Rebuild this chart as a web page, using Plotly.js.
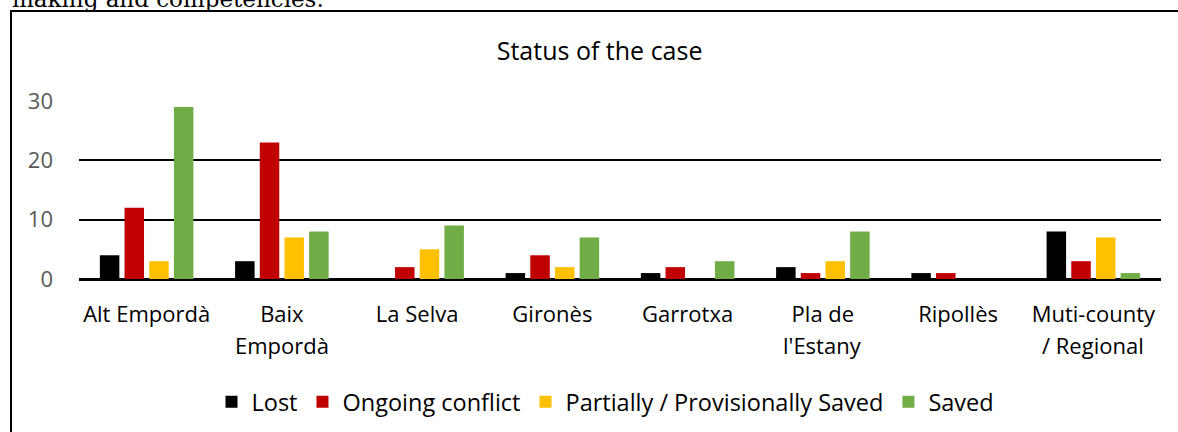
<!DOCTYPE html>
<html>
<head>
<meta charset="utf-8">
<script src="https://cdn.plot.ly/plotly-3.0.1.min.js"></script>
<style>
  html, body { margin: 0; padding: 0; background: #fff; overflow: hidden; }
  #wrap { position: relative; width: 1178px; height: 432px; overflow: hidden; }
  #chart { position: absolute; left: 0; top: 0; width: 1178px; height: 432px; }
  #frame { position: absolute; left: 10px; top: 10px; width: 1200px; height: 460px;
           border-left: 2px solid #000; border-top: 2px solid #000; pointer-events: none; }
  #prev { position: absolute; left: 12px; top: -17px; font-family: "DejaVu Serif", serif;
          font-size: 23px; line-height: 32px; color: #000; white-space: nowrap; }
</style>
</head>
<body>
<div id="wrap">
  <div id="chart"></div>
  <div id="prev">making and competencies.</div>
  <div id="frame"></div>
</div>
<script>
const categories = ["Alt Empordà", "Baix Empordà", "La Selva", "Gironès", "Garrotxa", "Pla de l'Estany", "Ripollès", "Muti-county / Regional"];
const labelLine1 = ["Alt Empordà", "Baix", "La Selva", "Gironès", "Garrotxa", "Pla de", "Ripollès", "Muti-county"];
const labelLine2 = ["", "Empordà", "", "", "", "l'Estany", "", "/ Regional"];
const seriesNames = ["Lost", "Ongoing conflict", "Partially / Provisionally Saved", "Saved"];
const lost = [4, 3, 0, 1, 1, 2, 1, 8];
const ongoing = [12, 23, 2, 4, 2, 1, 1, 3];
const partial = [3, 7, 5, 2, 0, 3, 0, 7];
const saved = [29, 8, 9, 7, 3, 8, 0, 1];
const yTicks = [0, 10, 20, 30];

const colors = ["#000000", "#C00000", "#FFC000", "#70AD47"];
const values = [lost, ongoing, partial, saved];
const FONT = "'Open Sans', 'Noto Sans', sans-serif";

const traces = values.map((v, i) => ({
  type: "bar",
  name: seriesNames[i],
  x: categories,
  y: v.map(d => (d === 0 ? null : d)),
  marker: { color: colors[i], line: { color: "#ffffff", width: 0 } },
  hoverinfo: "x+y+name"
}));

const annotations = categories.map((c, i) => ({
  x: c, xref: "x", y: 0, yref: "paper",
  text: labelLine2[i], showarrow: false,
  yanchor: "top", yshift: -49,
  font: { family: FONT, size: 22, color: "#000" }
})).filter(a => a.text !== "");

const layout = {
  width: 1178, height: 432,
  margin: { l: 79, r: 17, t: 101, b: 153 },
  paper_bgcolor: "#ffffff", plot_bgcolor: "#ffffff",
  font: { family: FONT, size: 22, color: "#000" },
  title: {
    text: "Status of the case",
    font: { family: FONT, size: 25, color: "#000" },
    xref: "container", x: 0.509, xanchor: "center",
    yref: "container", y: 0.882, yanchor: "middle"
  },
  barmode: "group",
  bargap: 0.27,
  bargroupgap: 0.21,
  xaxis: {
    type: "category",
    tickvals: categories,
    ticktext: labelLine1,
    tickfont: { family: FONT, size: 22, color: "#000" },
    ticklabelstandoff: 20,
    showgrid: false, showline: false, ticks: "", zeroline: false
  },
  yaxis: {
    range: [0, 30],
    tickvals: yTicks,
    tickfont: { family: FONT, size: 22, color: "#595959" },
    ticklabelstandoff: 25,
    showgrid: true, gridcolor: "#000", gridwidth: 2,
    zeroline: true, zerolinecolor: "#000", zerolinewidth: 3,
    showline: false, ticks: ""
  },
  legend: {
    orientation: "h",
    xref: "container", x: 0.514, xanchor: "center",
    yref: "container", y: 0.0694, yanchor: "middle",
    font: { family: FONT, size: 23.5, color: "#000" },
    traceorder: "normal"
  },
  annotations: annotations,
  showlegend: true
};

Plotly.newPlot("chart", traces, layout, { displayModeBar: false, staticPlot: true });
</script>
</body>
</html>
